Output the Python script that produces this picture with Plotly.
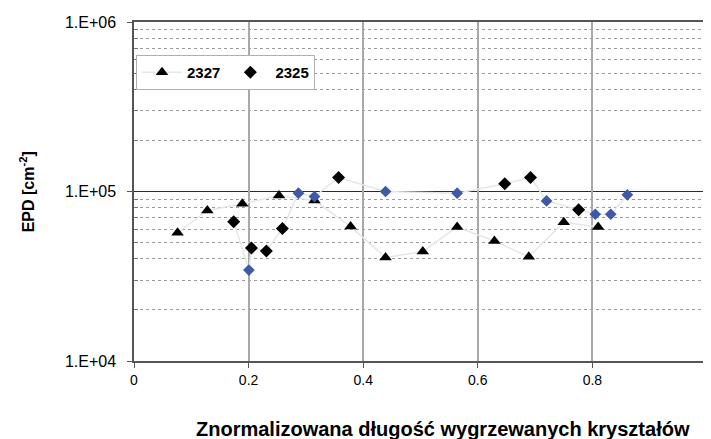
import plotly.graph_objects as go

# series 2327 (triangles)
x_2327 = [0.076, 0.128, 0.189, 0.253, 0.315, 0.378, 0.439, 0.504, 0.564, 0.629, 0.689, 0.750, 0.810]
epd_2327 = [57100, 77300, 84600, 94700, 88400, 62100, 40800, 44200, 61800, 51000, 41200, 65900, 61800]

# series 2325 (diamonds) - points drawn black in the original
x_2325 = [0.174, 0.205, 0.231, 0.259, 0.357, 0.647, 0.692, 0.776]
epd_2325 = [66400, 46400, 44600, 60400, 121000, 111000, 121000, 78000]
# series 2325 - points drawn blue in the original
x_2325_b = [0.2005, 0.287, 0.315, 0.439, 0.564, 0.720, 0.805, 0.832, 0.861]
epd_2325_b = [34400, 97800, 93400, 100000, 97800, 88000, 73400, 73400, 95600]

x_ticks = [0, 0.2, 0.4, 0.6, 0.8, 1]
x_ticktext = ['0', '0.2', '0.4', '0.6', '0.8', '1']
y_ticks = [1e4, 1e5, 1e6]
y_ticktext = ['1.E+04', '1.E+05', '1.E+06']
y_minor = [m * 10 ** e for e in (4, 5) for m in range(2, 10)]

x_title = 'Znormalizowana długość wygrzewanych kryształów'
y_title = 'EPD [cm<sup>-2</sup>]'

FONT = 'Liberation Sans, Arial, sans-serif'
LINE = '#e6e6e6'

# line path through all 2325 points, ordered by x
pts = sorted(list(zip(x_2325, epd_2325)) + list(zip(x_2325_b, epd_2325_b)))
line_x = [p[0] for p in pts]
line_y = [p[1] for p in pts]

fig = go.Figure()

fig.add_trace(go.Scatter(x=x_2327, y=epd_2327, mode='lines+markers', name='2327',
                         line=dict(color=LINE, width=1.5),
                         marker=dict(symbol='triangle-up', size=11, color='black')))
fig.add_trace(go.Scatter(x=line_x, y=line_y, mode='lines', showlegend=False,
                         line=dict(color=LINE, width=1.5), hoverinfo='skip'))
fig.add_trace(go.Scatter(x=x_2325, y=epd_2325, mode='markers', name='2325',
                         marker=dict(symbol='diamond', size=10, color='black')))
fig.add_trace(go.Scatter(x=x_2325_b, y=epd_2325_b, mode='markers', showlegend=False,
                         marker=dict(symbol='diamond', size=9, color='#3d5aa8')))

# blue vertical grid lines at 0.2 and 0.8
for xv in (0.2, 0.8):
    fig.add_shape(type='line', x0=xv, x1=xv, y0=0, y1=1, xref='x', yref='paper',
                  line=dict(color='#6a86d4', width=1), layer='below')
# dark line at 1E+05
fig.add_shape(type='line', x0=0, x1=1, y0=1e5, y1=1e5, xref='paper', yref='y',
              line=dict(color='#1f2a5a', width=1.2), layer='below')

# the last x tick label sits on the page edge and plotly drops it, so draw it by hand
fig.add_annotation(text=x_ticktext[-1], x=x_ticks[-1], y=0, xref='x', yref='paper',
                   xanchor='center', yanchor='top', yshift=-8, showarrow=False,
                   font=dict(size=14, family=FONT))

# axis titles
fig.add_annotation(text='<b>' + x_title + '</b>', x=0.54, y=-0.2, xref='paper', yref='paper',
                   xanchor='center', yanchor='middle', showarrow=False,
                   font=dict(size=20, family=FONT))
fig.add_annotation(text='<b>' + y_title + '</b>', x=-0.187, y=0.5, xref='paper', yref='paper',
                   xanchor='center', yanchor='middle', showarrow=False, textangle=-90,
                   font=dict(size=16, family=FONT))

# page body has an 8px margin, so the figure is 8px smaller than the window
fig.update_layout(
    width=703, height=431,
    margin=dict(l=126, r=4, t=14, b=78),
    plot_bgcolor='white', paper_bgcolor='white',
    font=dict(family=FONT, size=15, color='black'),
    showlegend=True,
    legend=dict(orientation='h', x=0.0035, y=0.903, xanchor='left', yanchor='top',
                bgcolor='white', bordercolor='#b0b0b0', borderwidth=1,
                font=dict(size=15, family=FONT, weight='bold'),
                itemwidth=40),
    xaxis=dict(range=[0, 1], tickvals=x_ticks, ticktext=x_ticktext, automargin=False,
               showgrid=True, gridcolor='#a8a8a8', gridwidth=1.5,
               showline=True, linecolor='#555555', linewidth=1.5, mirror=True,
               ticks='outside', ticklen=5, tickcolor='#555555',
               ticklabeloverflow='allow',
               tickfont=dict(size=14), zeroline=False),
    yaxis=dict(type='log', range=[4, 6], tickvals=y_ticks, ticktext=y_ticktext, automargin=False,
               showgrid=False,
               showline=True, linecolor='#555555', linewidth=1.5, mirror=True,
               ticks='outside', ticklen=5, tickcolor='#555555', ticklabelstandoff=8,
               tickfont=dict(size=16),
               minor=dict(tickvals=y_minor + [m * 1e5 for m in range(2, 10)],
                          showgrid=True, gridcolor='#9a9a9a', griddash='dot',
                          gridwidth=1, ticks='inside', ticklen=4, tickcolor='#777777')),
)

fig.write_html('out.html')
